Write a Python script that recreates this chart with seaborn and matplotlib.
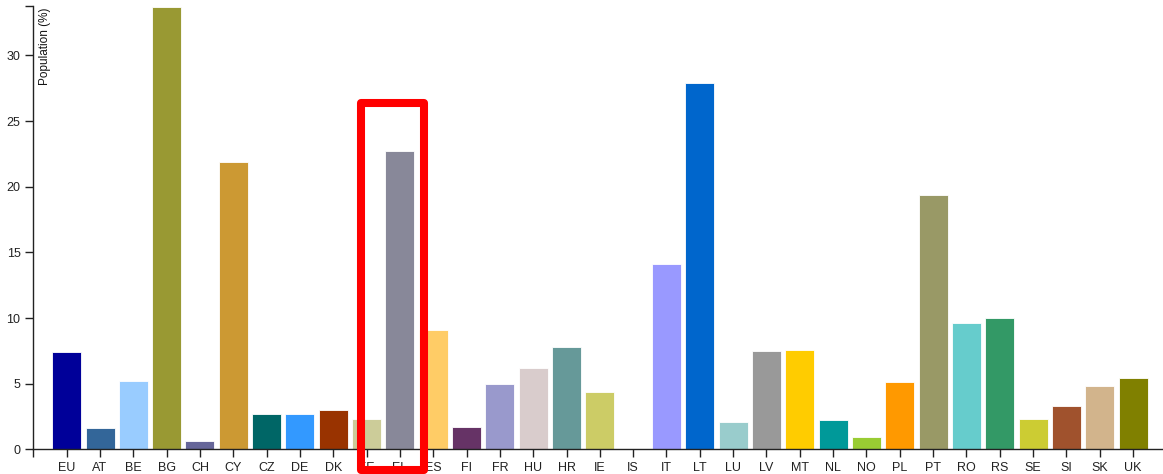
import matplotlib
matplotlib.use("Agg")
import matplotlib.pyplot as plt
import seaborn as sns
import pandas as pd
from matplotlib.patches import Rectangle

countries = ["EU", "AT", "BE", "BG", "CH", "CY", "CZ", "DE", "DK", "EE", "EL",
             "ES", "FI", "FR", "HU", "HR", "IE", "IS", "IT", "LT", "LU", "LV",
             "MT", "NL", "NO", "PL", "PT", "RO", "RS", "SE", "SI", "SK", "UK"]
population = [7.4, 1.6, 5.2, 33.7, 0.6, 21.9, 2.7, 2.7, 3.0, 2.3, 22.7,
              9.1, 1.7, 5.0, 6.2, 7.8, 4.4, 0.0, 14.1, 27.9, 2.1, 7.5,
              7.6, 2.2, 0.9, 5.1, 19.4, 9.6, 10.0, 2.3, 3.3, 4.8, 5.4]
bar_colors = ["#000099", "#336699", "#99ccff", "#999933", "#666699", "#cc9933",
              "#006666", "#3399ff", "#993300", "#cccc99", "#888899", "#ffcc66",
              "#663366", "#9999cc", "#d9cccc", "#669999", "#cccc66", "#cccccc",
              "#9999ff", "#0066cc", "#99cccc", "#999999", "#ffcc00", "#009999",
              "#99cc33", "#ff9900", "#999966", "#66cccc", "#339966", "#cccc33",
              "#a0522d", "#d2b48c", "#808000"]
highlight = ["EE", "EL"]

df = pd.DataFrame({"country": countries, "population": population})

sns.set_style("white")
plt.rcParams["font.family"] = ["Liberation Sans", "DejaVu Sans"]

fig = plt.figure(figsize=(11.63, 4.74), dpi=100)
ax = fig.add_axes([0.0284, 0.0521, 0.9716, 0.935])

sns.barplot(data=df, x="country", y="population", hue="country",
            palette=bar_colors, legend=False, width=0.87, errorbar=None,
            saturation=1, edgecolor="white", linewidth=0.6, ax=ax)

ymax = 33.76
ax.set_ylim(0, ymax)
ax.set_xlim(-1.01, 32.9)
ax.set_yticks([0, 5, 10, 15, 20, 25, 30])
ax.set_yticks([ymax], minor=True)
ax.set_xticks([-1.01], minor=True)
ax.tick_params(axis="both", which="both", direction="out", length=6, width=1,
               color="#222222", labelsize=9, labelcolor="#222222", pad=3,
               left=True, bottom=True)
ax.set_xlabel("")
ax.set_ylabel("")
ax.text(0.0106, 0.998, "Population (%)", transform=ax.transAxes, rotation=90,
        ha="center", va="top", fontsize=8.5, color="#111111")

sns.despine(ax=ax)
for side in ["left", "bottom"]:
    ax.spines[side].set_color("#222222")
    ax.spines[side].set_linewidth(1)

# red box around the highlighted countries
i0 = countries.index(highlight[0])
i1 = countries.index(highlight[1])
box = Rectangle((i0 - 0.16, -1.6), (i1 - i0) + 0.88, 28.0,
                fill=False, edgecolor="#ff0000", linewidth=5.8,
                joinstyle="round", clip_on=False, zorder=5)
ax.add_patch(box)

fig.savefig("out.png", dpi=100)
